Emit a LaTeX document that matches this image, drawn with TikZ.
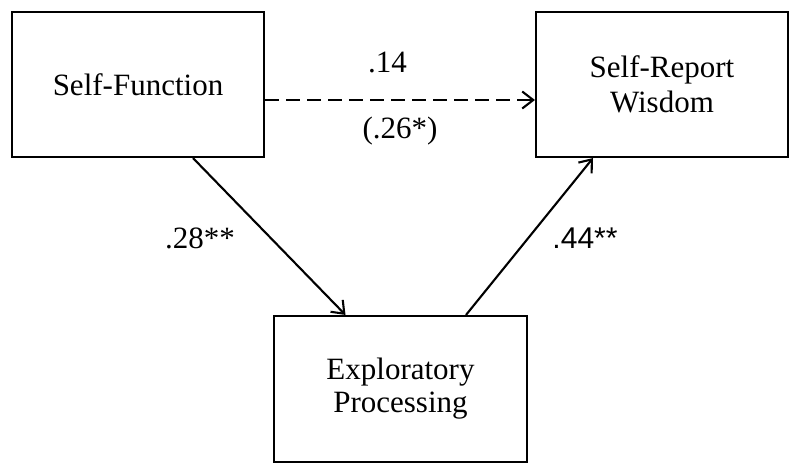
\documentclass[tikz,border=0pt]{standalone}
\usepackage{fontspec}
\setmainfont{Liberation Serif}
\newfontfamily\arialfont{Liberation Sans}
\usetikzlibrary{arrows.meta}
\begin{document}
\begin{tikzpicture}[x=1pt,y=-1pt,
  box/.style={draw,line width=2.1pt,minimum width=252pt,minimum height=145pt,
    align=center,inner sep=0pt,font=\fontsize{31}{35}\selectfont},
  path/.style={line width=2.1pt,-{Straight Barb[length=11pt,width=17pt,line width=2.1pt]}},
  lbl/.style={font=\fontsize{31}{34}\selectfont,inner sep=0pt}]
\useasboundingbox[fill=white] (0,0) rectangle (800,474);
\node[box] (sf) at (138,84.5) {Self-Function};
\node[box] (srw) at (662,84.5) {Self-Report\\Wisdom};
\node[box,minimum width=253pt,minimum height=146pt,font=\fontsize{31}{33}\selectfont] (ep) at (400.5,389) {Exploratory\\Processing};
\draw[path,dash pattern=on 14pt off 7pt] ([yshift=-15.5pt]sf.east) -- ([yshift=-15.5pt]srw.west);
\draw[path] ([xshift=55pt]sf.south) -- ([xshift=-55pt]ep.north);
\draw[path] ([xshift=65.5pt]ep.north) -- ([xshift=-69pt]srw.south);
\node[lbl] (l14) at (387.5,62) {.14};
\node[lbl] (l26) at (400,131) {(.26*)};
\node[lbl] (l28) at (200,238) {.28**};
\node[lbl,font=\arialfont\fontsize{30}{34}\selectfont] (l44) at (585,238) {.44**};
\end{tikzpicture}
\end{document}
